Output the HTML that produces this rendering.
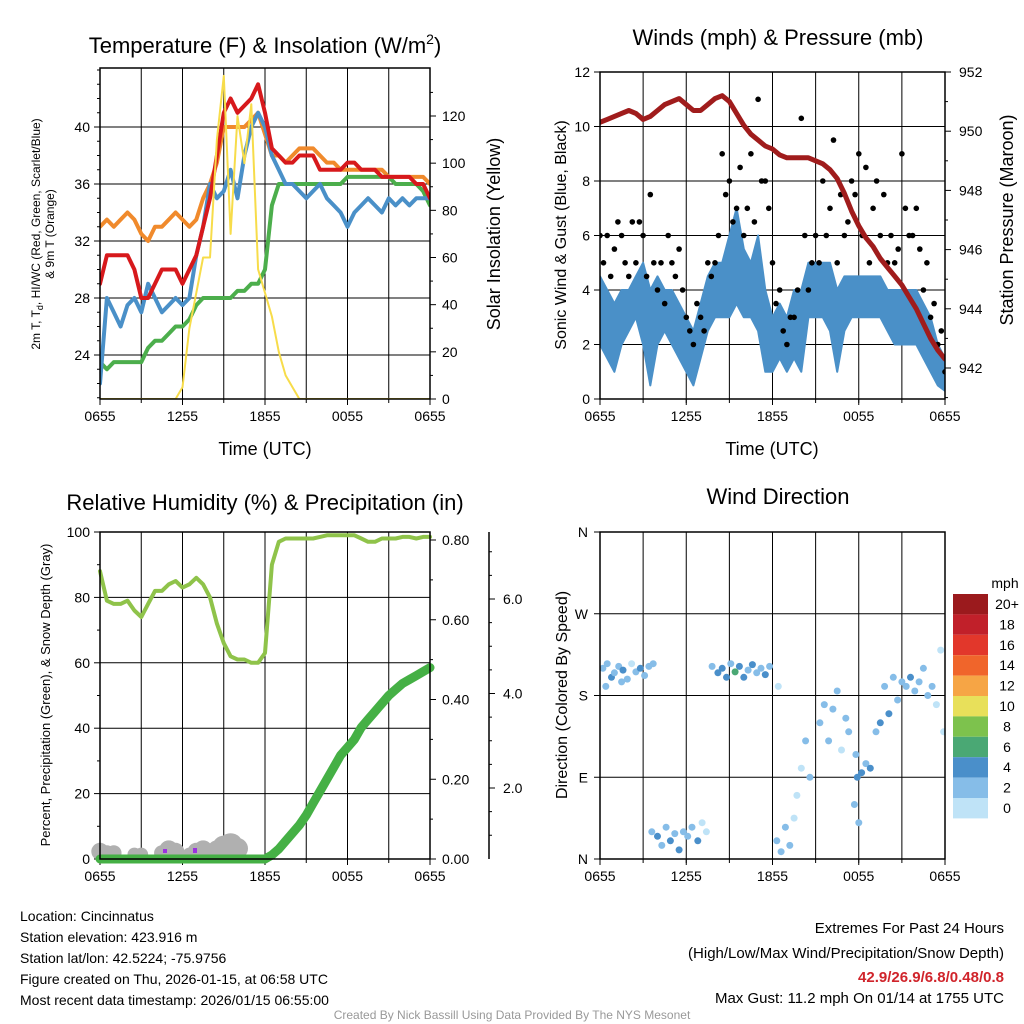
<!DOCTYPE html>
<html><head><meta charset="utf-8">
<style>
html,body{margin:0;padding:0;background:#fff;}
svg{display:block;font-family:"Liberation Sans",sans-serif;}
</style></head>
<body>
<svg id="chart" width="1024" height="1024" viewBox="0 0 1024 1024" xmlns="http://www.w3.org/2000/svg">
<rect x="0" y="0" width="1024" height="1024" fill="#fff"/>
<text x="265" y="53" font-size="22" text-anchor="middle">Temperature (F) &amp; Insolation (W/m<tspan font-size="14" dy="-9">2</tspan><tspan dy="9">)</tspan></text>
<text x="778" y="45" font-size="22" text-anchor="middle">Winds (mph) &amp; Pressure (mb)</text>
<text x="265" y="510" font-size="22" text-anchor="middle">Relative Humidity (%) &amp; Precipitation (in)</text>
<text x="778" y="504" font-size="22" text-anchor="middle">Wind Direction</text>
<text transform="translate(40,234) rotate(-90)" font-size="12" text-anchor="middle">2m T, T<tspan font-size="9" dy="3">d</tspan><tspan dy="-3">, HI/WC (Red, Green, Scarlet/Blue)</tspan></text>
<text transform="translate(54,234) rotate(-90)" font-size="12" text-anchor="middle">&amp; 9m T (Orange)</text>
<text transform="translate(500,234) rotate(-90)" font-size="18" text-anchor="middle">Solar Insolation (Yellow)</text>
<text x="265" y="455" font-size="18" text-anchor="middle">Time (UTC)</text>
<text transform="translate(566,235) rotate(-90)" font-size="16" text-anchor="middle">Sonic Wind &amp; Gust (Blue, Black)</text>
<text transform="translate(1013,220) rotate(-90)" font-size="18" text-anchor="middle">Station Pressure (Maroon)</text>
<text x="772" y="455" font-size="18" text-anchor="middle">Time (UTC)</text>
<text transform="translate(50,695) rotate(-90)" font-size="13" text-anchor="middle">Percent, Precipitation (Green), &amp; Snow Depth (Gray)</text>
<text transform="translate(567,695) rotate(-90)" font-size="16" text-anchor="middle">Direction (Colored By Speed)</text>
<g font-size="14">
<text x="20" y="921">Location: Cincinnatus</text>
<text x="20" y="942">Station elevation: 423.916 m</text>
<text x="20" y="963">Station lat/lon: 42.5224; -75.9756</text>
<text x="20" y="984">Figure created on Thu, 2026-01-15, at 06:58 UTC</text>
<text x="20" y="1005">Most recent data timestamp: 2026/01/15 06:55:00</text>
</g>
<g font-size="15" text-anchor="end">
<text x="1004" y="933">Extremes For Past 24 Hours</text>
<text x="1004" y="958">(High/Low/Max Wind/Precipitation/Snow Depth)</text>
<text x="1004" y="982" fill="#d0242b" font-weight="bold">42.9/26.9/6.8/0.48/0.8</text>
<text x="1004" y="1003">Max Gust: 11.2 mph On 01/14 at 1755 UTC</text>
</g>
<text x="512" y="1019" font-size="12" fill="#999" text-anchor="middle">Created By Nick Bassill Using Data Provided By The NYS Mesonet</text>
<g id="layer"></g>
</svg>
<script>
// ---- Panel 1 data (half-hour steps) ----
const xLabels = ["0655","1255","1855","0055","0655"];
const tempRed = [29,31,31,31,31,30,28,28,29,30,30,30,29,30,31,33,35,38,41,42,41,41.5,42,43,41,38.5,38,37.5,37.5,38,38,38,37,37,37,37,37.5,37.5,37,37,37,36.5,36.5,36.5,36.5,36.5,36,36,35];
const temp9m = [33,33.5,33,33.5,34,33.5,32.5,32,33,33,33.5,34,33.5,33,33.5,35,36,37.5,40,40,40,40,40.5,41,39.5,38,38,37.5,38,38.5,38.5,38.5,38,37.5,37.5,37,37,37,37,37,37,37,36.5,36.5,36.5,36.5,36.5,36.5,36];
const tempBlue = [22,28,27,26,27.5,28,27,29,28,27,27.5,28,27.5,28,31,33,36,35,35.5,37,35,38,40,41,40,38,37,36,36,35.5,35,35.5,36,35,34.5,34,33,34,34.5,35,34.5,34,35,34.5,35,34.5,35,35,35];
const tempGreen = [23.5,23,23.5,23.5,23.5,23.5,23.5,24.5,25,25,25.5,26,26,26.5,27.5,28,28,28,28,28,28.5,28.5,29,29,30,34.5,36,36,36,36,36,36,36,36,36,36,36.5,36.5,36.5,36.5,36.5,36.5,36.5,36,36,36,36,35.5,34.5];
const solar = [0,0,0,0,0,0,0,0,0,0,0,0,5,30,45,60,60,110,137,70,120,100,125,55,45,35,20,10,5,0,0,0,0,0,0,0,0,0,0,0,0,0,0,0,0,0,0,0,0];
const tempTicks = [24,28,32,36,40];
const solarTicks = [0,20,40,60,80,100,120];
// ---- Panel 2 data ----
const windMin = [2,1.5,1,2,2.5,3,2,0.5,2,2.5,2,1.5,1,0.5,1.5,2.5,3,3,3,3.5,3,3,2.5,1,1,1.5,1,1.5,1,3,3,3,2.5,1,2.5,3,3,3,3,3,2.5,2,2,2,2,1.5,1,0.5,0.3];
const windMax = [4.5,4,3.5,4,4,4.5,5,4,4.5,4,4,3.5,3,2.5,3.5,4.5,5,5,6,7,5.5,5,6,4,3,3.5,3,4,4,5,5,5,5,4,4.5,4.5,4.5,4.5,4.5,4.5,4,4,4,4,4,3.5,3,2,1.5];
const gustA = [6,6,5.5,6,4.5,5,6,7.5,4,3.5,5,5.5,3,2,3,5,5,9,8,7,6,9,11,8,5,4,2,3,10.3,4,6,8,7,5,6,8,9,8.5,7,6,5,5,9,6,7,4,3,2,1];
const gustB = [5,4.5,6.5,5,6.5,6.5,4.5,5,5,6,4.5,4,2.5,3.5,2.5,4.5,6,7.5,6.5,8.5,7,6.5,8,7,3.5,2.5,3,4,6,5,5,6,9.5,7.5,6.5,7.5,6,5,8,7.5,6,5.5,7,6,5.5,5,3.5,2.5,1.5];
const pressure = [950.3,950.4,950.5,950.6,950.7,950.6,950.4,950.5,950.7,950.9,951.0,951.1,950.9,950.7,950.7,950.9,951.1,951.2,951.0,950.6,950.2,949.9,949.7,949.5,949.4,949.2,949.1,949.1,949.1,949.1,949.0,948.9,948.7,948.4,947.9,947.3,946.8,946.4,946.1,945.7,945.4,945.1,944.8,944.4,944.0,943.5,943.0,942.6,942.3];
const windTicks = [0,2,4,6,8,10,12];
const presTicks = [942,944,946,948,950,952];
// ---- Panel 3 data ----
const rh = [88,79,78,78,79,76,74,78,82,82,84,85,83,84,86,84,80,72,66,62,61,61,60,60,63,90,97,98,98,98,98,98,98.5,99,99,99,99,99,98,97,97,98,98,98,98.5,98.5,98,98.5,98.5];
const precip = [0,0,0,0,0,0,0,0,0,0,0,0,0,0,0,0,0,0,0,0,0,0,0,0,0,0.01,0.025,0.045,0.065,0.085,0.11,0.14,0.17,0.2,0.23,0.26,0.28,0.3,0.33,0.35,0.37,0.39,0.41,0.425,0.44,0.45,0.46,0.47,0.48];
const snow = [0.15,0.1,0.1,0,0,0.05,0.05,0,0,0.1,0.2,0.15,0,0.05,0.15,0.2,0.1,0.2,0.3,0.35,0.25,0,0,0,0,0,0,0,0,0,0,0,0,0,0,0,0,0,0,0,0,0,0,0,0,0,0,0,0];
const rhTicks = [0,20,40,60,80,100];
const precipTicks = [0,0.2,0.4,0.6,0.8];
const snowTicks = [2,4,6];
// ---- Panel 4 data ----
const dirTime = [0.2,0.5,0.8,1.0,1.3,1.6,1.9,2.2,2.5,2.8,3.1,3.4,3.7,0.4,1.5,3.6,4.0,4.3,4.6,4.9,5.2,5.5,5.8,6.1,6.4,6.8,7.1,7.4,7.8,8.2,8.5,8.8,9.1,9.4,9.7,10.0,10.3,10.6,10.9,11.2,11.5,11.8,12.3,12.6,12.9,13.2,13.5,12.4,13.7,14.0,14.3,14.6,15.3,15.6,15.9,16.2,16.5,16.8,17.1,17.3,17.7,17.9,18.2,18.5,18.8,18.0,17.8,19.2,19.5,19.8,20.1,20.4,20.7,21.0,21.3,21.6,21.9,22.2,22.5,22.8,23.1,23.4,23.7,23.9];
const dirDeg = [210,215,200,205,212,208,198,215,206,210,202,212,215,190,195,30,25,15,35,20,28,10,30,25,35,20,40,30,212,205,210,200,215,206,212,200,208,214,205,210,203,212,20,8,35,15,45,190,70,100,130,90,150,170,130,165,185,120,155,140,60,90,95,105,100,40,115,140,150,190,160,200,175,195,190,200,185,195,210,180,190,170,230,140];
const dirSpeed = [2,3,4,3,2,4,3,1,3,4,2,3,2,2,3,3,4,3,2,4,3,4,3,2,3,4,1,1,3,4,5,4,3,6,4,5,3,4,3,2,4,3,3,2,3,2,1,1,1,1,2,2,2,3,2,3,2,1,3,3,3,4,4,3,4,3,2,3,4,2,4,3,2,3,3,4,3,3,2,2,2,1,1,1];
const speedLabels = ["20+","18","16","14","12","10","8","6","4","2","0"];
const speedColors = ["#9b1a1d","#c1202a","#e2372b","#f0652b","#f6a545","#e8e05a","#7dc24d","#4aa874","#4a8fca","#86bde8","#bfe3f7"];
const dirLabels = ["N","E","S","W","N"];

const NS="http://www.w3.org/2000/svg";
const layer=document.getElementById('layer');
function mk(tag,attrs,parent){const e=document.createElementNS(NS,tag);for(const k in attrs)e.setAttribute(k,attrs[k]);(parent||layer).appendChild(e);return e;}
function lin(d0,d1,r0,r1){return v=>r0+(v-d0)*(r1-r0)/(d1-d0);}

function frame(x0,x1,y0,y1){
  for(let k=1;k<8;k++){const gx=x0+(x1-x0)*k/8;
    const g=mk('line',{x1:gx,x2:gx,y1:y0,y2:y1,stroke:'#000','stroke-width':1});
    
    }
  xLabels.forEach((lab,k)=>{const tx=x0+(x1-x0)*k/4;
    const tk=mk('line',{x1:tx,x2:tx,y1:y1,y2:y1+6,stroke:'#000'});
    
    
    const t=mk('text',{x:tx,y:y1+22,'font-size':14,'text-anchor':'middle'});t.textContent=lab;
    
    });
  for(let k=0;k<=8;k++){const tx=x0+(x1-x0)*k/8;mk('line',{x1:tx,x2:tx,y1:y1,y2:y1+4,stroke:'#000'});}
}
function box(x0,x1,y0,y1,name){const r=mk('rect',{x:x0,y:y0,width:x1-x0,height:y1-y0,fill:'none',stroke:'#000','stroke-width':1.5});
  
  }
function hgrid(x0,x1,y){const g=mk('line',{x1:x0,x2:x1,y1:y,y2:y,stroke:'#000','stroke-width':1});
  
  }
function ytick(x,y,dir,label,anchorX,anchor){mk('line',{x1:x,x2:x+dir*6,y1:y,y2:y,stroke:'#000'});
  if(label!==null){const t=mk('text',{x:anchorX,y:y+5,'font-size':14,'text-anchor':anchor});t.textContent=label;
  
  }}
function path(vals,xf,yf,color,w,name){let d='';vals.forEach((v,i)=>{d+=(i?'L':'M')+xf(i).toFixed(1)+','+yf(v).toFixed(1);});
  const p=mk('path',{d:d,fill:'none',stroke:color,'stroke-width':w,'stroke-linejoin':'round','stroke-linecap':'round'});
  
  return p;}

// ===== Panel 1 =====
{const x0=100,x1=430,y0=68,y1=399;
 const xf=lin(0,48,x0,x1), yL=lin(24,40,355,127), yR=lin(0,120,399,116);
 frame(x0,x1,y0,y1);
 tempTicks.forEach(v=>{hgrid(x0,x1,yL(v));ytick(x0,yL(v),-1,String(v),x0-10,'end');});
 for(let v=21;v<=44;v++){mk('line',{x1:x0,x2:x0-3,y1:yL(v),y2:yL(v),stroke:'#000'});}
 solarTicks.forEach(v=>{ytick(x1,yR(v),1,String(v),x1+12,'start');});
 for(let v=10;v<=130;v+=20){mk('line',{x1:x1,x2:x1+3,y1:yR(v),y2:yR(v),stroke:'#000'});}
 const clip=mk('clipPath',{id:'c1'});mk('rect',{x:x0,y:y0,width:x1-x0,height:y1-y0},clip);
 const g=mk('g',{'clip-path':'url(#c1)'});
 g.appendChild(path(temp9m,xf,yL,'#f08a2c',4,'series-9m-temp'));
 g.appendChild(path(tempGreen,xf,yL,'#4cae4c',4,'series-heat-index'));
 g.appendChild(path(tempBlue,xf,yL,'#4a90c8',4,'series-dewpoint'));
 g.appendChild(path(tempRed,xf,yL,'#d7191c',4,'series-2m-temp'));
 g.appendChild(path(solar,xf,yR,'#f7dc4a',2,'series-solar'));
 box(x0,x1,y0,y1,'temp-plot-frame');}

// ===== Panel 2 =====
{const x0=600,x1=945,y0=72,y1=399;
 const xf=lin(0,48,x0,x1), yL=lin(0,12,399,72), yR=lin(942,952,368,72);
 frame(x0,x1,y0,y1);
 windTicks.forEach(v=>{hgrid(x0,x1,yL(v));ytick(x0,yL(v),-1,String(v),x0-10,'end');});
 presTicks.forEach(v=>{ytick(x1,yR(v),1,String(v),x1+14,'start');});
 for(let v=941;v<=951;v+=2){mk('line',{x1:x1,x2:x1+3,y1:yR(v),y2:yR(v),stroke:'#000'});}
 const clip=mk('clipPath',{id:'c2'});mk('rect',{x:x0,y:y0,width:x1-x0,height:y1-y0},clip);
 const g=mk('g',{'clip-path':'url(#c2)'});
 let d='';windMax.forEach((v,i)=>{d+=(i?'L':'M')+xf(i).toFixed(1)+','+yL(v).toFixed(1);});
 for(let i=windMin.length-1;i>=0;i--){d+='L'+xf(i).toFixed(1)+','+yL(windMin[i]).toFixed(1);}
 const band=mk('path',{d:d+'Z',fill:'#4a90c8',stroke:'#4a90c8','stroke-width':2,'stroke-linejoin':'round'},g);
 
 
 [gustA,gustB].forEach((arr,j)=>{arr.forEach((v,i)=>{
   const c=mk('circle',{cx:(xf(i)+(j?3.5:0)).toFixed(1),cy:yL(v).toFixed(1),r:2.8,fill:'#000'},g);
   
   });});
 g.appendChild(path(pressure,xf,yR,'#a01c1c',5,'series-pressure'));
 box(x0,x1,y0,y1,'wind-plot-frame');}

// ===== Panel 3 =====
{const x0=100,x1=430,y0=532,y1=859;
 const xf=lin(0,48,x0,x1), yL=lin(0,100,859,532), yR=lin(0,0.8,859,540), yS=lin(2,6,788,599);
 frame(x0,x1,y0,y1);
 rhTicks.forEach(v=>{hgrid(x0,x1,yL(v));ytick(x0,yL(v),-1,String(v),x0-10,'end');});
 for(let v=10;v<=90;v+=20){mk('line',{x1:x0,x2:x0-3,y1:yL(v),y2:yL(v),stroke:'#000'});}
 precipTicks.forEach(v=>{ytick(x1,yR(v),1,v.toFixed(2),x1+12,'start');});
 for(let v=0.1;v<0.8;v+=0.2){mk('line',{x1:x1,x2:x1+3,y1:yR(v),y2:yR(v),stroke:'#000'});}
 const sa=mk('line',{x1:489,x2:489,y1:532,y2:859,stroke:'#000','stroke-width':1.5});
 
 
 snowTicks.forEach(v=>{ytick(489,yS(v),1,v.toFixed(1),503,'start');});
 for(let v=1;v<=7;v+=0.5){if(yS(v)>532&&yS(v)<859)mk('line',{x1:489,x2:492,y1:yS(v),y2:yS(v),stroke:'#000'});}
 const clip=mk('clipPath',{id:'c3'});mk('rect',{x:x0-10,y:y0,width:x1-x0+20,height:y1-y0+15},clip);
 const g=mk('g',{'clip-path':'url(#c3)'});
 snow.forEach((v,i)=>{if(v>0){const c=mk('circle',{cx:xf(i),cy:(856-v*30).toFixed(1),r:(6+v*18).toFixed(1),fill:'#b0b0b0'},g);
   
   }});
 mk('rect',{x:163,y:849,width:4,height:4,fill:'#9b30e0'},g);
 mk('rect',{x:193,y:848,width:4,height:5,fill:'#9b30e0'},g);
 g.appendChild(path(precip,xf,yR,'#45b045',9,'series-precip'));
 g.appendChild(path(rh,xf,yL,'#8fc34a',4,'series-rh'));
 box(x0,x1,y0,y1,'rh-plot-frame');}

// ===== Panel 4 =====
{const x0=600,x1=945,y0=532,y1=859;
 const xf=lin(0,24,x0,x1), yf=lin(0,360,859,532);
 frame(x0,x1,y0,y1);
 dirLabels.forEach((lab,k)=>{const y=yf(k*90);if(k>0&&k<4)hgrid(x0,x1,y);ytick(x0,y,-1,lab,x0-12,'end');});
 const clip=mk('clipPath',{id:'c4'});mk('rect',{x:x0,y:y0,width:x1-x0,height:y1-y0},clip);
 const g=mk('g',{'clip-path':'url(#c4)'});
 dirTime.forEach((t,i)=>{const s=dirSpeed[i];const idx=Math.max(0,Math.min(10,10-Math.floor(s/2)));
   const c=mk('circle',{cx:xf(t).toFixed(1),cy:yf(dirDeg[i]).toFixed(1),r:3.5,fill:speedColors[idx]},g);
   
   });
 box(x0,x1,y0,y1,'dir-plot-frame');
 const t=mk('text',{x:1005,y:588,'font-size':14,'text-anchor':'middle'});t.textContent='mph';
 
 
 speedLabels.forEach((lab,k)=>{const y=594+k*20.4;
   const r=mk('rect',{x:953,y:y,width:35,height:20.4,fill:speedColors[k]});
   
   
   const tl=mk('text',{x:1007,y:y+15,'font-size':14,'text-anchor':'middle'});tl.textContent=lab;
   
   });}
</script>
</body></html>
